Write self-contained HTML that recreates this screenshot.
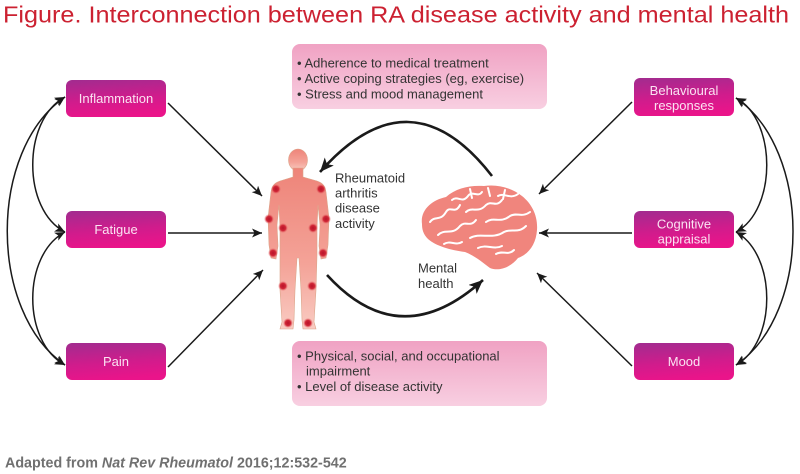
<!DOCTYPE html>
<html><head><meta charset="utf-8"><style>
html,body{margin:0;padding:0;background:#fff;}
svg{display:block;}
text{font-family:"Liberation Sans",Arial,sans-serif;}
</style></head><body>
<svg width="800" height="474" viewBox="0 0 800 474" xmlns="http://www.w3.org/2000/svg">
<defs>
<linearGradient id="bx" x1="0.2" y1="0" x2="0.4" y2="1">
<stop offset="0" stop-color="#a42b8f"/><stop offset="0.55" stop-color="#d01c8c"/><stop offset="1" stop-color="#ea148a"/>
</linearGradient>
<linearGradient id="pk" x1="0" y1="0" x2="0" y2="1">
<stop offset="0" stop-color="#f0a2c3"/><stop offset="1" stop-color="#f8cfe1"/>
</linearGradient>
<linearGradient id="bd" x1="0" y1="0" x2="0" y2="1">
<stop offset="0" stop-color="#ee8479"/><stop offset="0.6" stop-color="#f4a398"/><stop offset="1" stop-color="#f9cbc2"/>
</linearGradient>
<radialGradient id="dot">
<stop offset="0" stop-color="#b8142a"/><stop offset="0.55" stop-color="#d02636"/><stop offset="1" stop-color="#e86a6a" stop-opacity="0"/>
</radialGradient>
<marker id="a" markerUnits="userSpaceOnUse" markerWidth="12" markerHeight="10" refX="10" refY="4.5" orient="auto-start-reverse">
<path d="M0,0 L10,4.5 L0,9 L2.5,4.5 Z" fill="#1a1a1a"/>
</marker>
<marker id="b" markerUnits="userSpaceOnUse" markerWidth="16" markerHeight="14" refX="14" refY="6" orient="auto-start-reverse">
<path d="M0,0 L14,6 L0,12 L3.5,6 Z" fill="#1a1a1a"/>
</marker>
</defs>

<text x="3" y="22.5" font-size="23" fill="#cc2131" textLength="786" lengthAdjust="spacingAndGlyphs">Figure. Interconnection between RA disease activity and mental health</text>

<!-- pink info boxes -->
<rect x="292" y="44" width="255" height="65" rx="8" fill="url(#pk)"/>
<text font-size="13" fill="#333">
<tspan x="297" y="67.5">• Adherence to medical treatment</tspan>
<tspan x="297" y="83">• Active coping strategies (eg, exercise)</tspan>
<tspan x="297" y="98.5">• Stress and mood management</tspan>
</text>
<rect x="292" y="341" width="255" height="65" rx="8" fill="url(#pk)"/>
<text font-size="13" fill="#333">
<tspan x="297" y="360.5">• Physical, social, and occupational</tspan>
<tspan x="306" y="375.5">impairment</tspan>
<tspan x="297" y="391">• Level of disease activity</tspan>
</text>

<!-- magenta boxes -->
<g fill="url(#bx)">
<rect x="66" y="80" width="100" height="37" rx="6"/>
<rect x="66" y="211" width="100" height="37" rx="6"/>
<rect x="66" y="343" width="100" height="37" rx="6"/>
<rect x="634" y="78" width="100" height="38" rx="6"/>
<rect x="634" y="211" width="100" height="37" rx="6"/>
<rect x="634" y="343" width="100" height="37" rx="6"/>
</g>
<g font-size="13" fill="#fbe3f2" text-anchor="middle">
<text x="116" y="103">Inflammation</text>
<text x="116" y="234">Fatigue</text>
<text x="116" y="366">Pain</text>
<text x="684" y="95">Behavioural</text>
<text x="684" y="110">responses</text>
<text x="684" y="228.5">Cognitive</text>
<text x="684" y="243.5">appraisal</text>
<text x="684" y="366">Mood</text>
</g>

<!-- straight connectors -->
<g stroke="#1a1a1a" stroke-width="1.5" fill="none" marker-end="url(#a)">
<line x1="168" y1="103" x2="262" y2="196"/>
<line x1="168" y1="233" x2="262" y2="233"/>
<line x1="168" y1="367" x2="263" y2="270"/>
<line x1="632" y1="102" x2="539" y2="194"/>
<line x1="632" y1="233" x2="539" y2="233"/>
<line x1="632" y1="366" x2="537" y2="273"/>
</g>
<!-- side double arcs -->
<g stroke="#1a1a1a" stroke-width="1.5" fill="none" marker-start="url(#a)" marker-end="url(#a)">
<path d="M65,97 C22,120 22,210 65,232"/>
<path d="M65,97 C-12,150 -12,312 65,365"/>
<path d="M65,232 C22,255 22,342 65,365"/>
<path d="M736,98 C777,120 777,210 736,232"/>
<path d="M736,98 C812,150 812,313 736,365"/>
<path d="M736,232 C777,255 777,342 736,365"/>
</g>
<!-- big arcs -->
<g stroke="#1a1a1a" stroke-width="2.6" fill="none" marker-end="url(#b)">
<path d="M492,176 Q410,70 320,172"/>
<path d="M327,275 Q400,355 483,280"/>
</g>

<!-- labels -->
<text font-size="13" fill="#333">
<tspan x="335" y="182.5">Rheumatoid</tspan>
<tspan x="335" y="197.5">arthritis</tspan>
<tspan x="335" y="212.5">disease</tspan>
<tspan x="335" y="228">activity</tspan>
</text>
<text font-size="13" fill="#333">
<tspan x="418" y="272.5">Mental</tspan>
<tspan x="418" y="288">health</tspan>
</text>

<!-- human figure -->
<g fill="url(#bd)" stroke="#dba58a" stroke-width="0.6">
<ellipse cx="298" cy="160" rx="9.5" ry="11"/>
<path d="M293,168 L303,168 L303,177 L317,181 C323,183 325,186 326,192 L329,218 L328,245 L326,258 L321,259 L319,246 L320,225 L318,205 L317,228 L317,255 L316,290 L314,322 L316,329 L303,329 L302,320 L301,290 L299,258 L297,258 L295,290 L294,320 L293,329 L280,329 L282,322 L280,290 L280,255 L280,228 L279,205 L277,225 L278,246 L276,259 L271,258 L269,245 L268,218 L271,192 C272,186 274,183 280,181 L293,177 Z"/>
</g>
<g fill="url(#dot)">
<circle cx="276" cy="189" r="5"/><circle cx="321" cy="189" r="5"/>
<circle cx="269" cy="219" r="5"/><circle cx="326" cy="219" r="5"/>
<circle cx="283" cy="228" r="5"/><circle cx="313" cy="228" r="5"/>
<circle cx="273" cy="253" r="5"/><circle cx="323" cy="253" r="5"/>
<circle cx="283" cy="286" r="5"/><circle cx="312" cy="286" r="5"/>
<circle cx="288" cy="323" r="5"/><circle cx="308" cy="323" r="5"/>
</g>

<!-- brain -->
<path d="M422,224 C420,210 432,200 446,197 C456,188 470,185 484,186 C498,184 512,188 522,196 C532,204 538,216 537,230 C536,244 529,254 518,258 C512,266 500,272 490,268 C482,262 475,256 465,252 C450,250 436,246 428,239 C423,234 422,229 422,224 Z" fill="#f0857d"/>
<g stroke="#fff" stroke-width="2" fill="none" stroke-linecap="round">
<path d="M430,222 C435,215 440,222 446,212 C450,205 455,215 460,205"/>
<path d="M438,235 C445,228 452,236 460,226 C466,220 470,228 476,220"/>
<path d="M452,200 C458,195 462,204 468,196 C472,190 478,198 482,192"/>
<path d="M466,212 C472,206 478,214 486,205 C492,200 496,208 502,200"/>
<path d="M470,238 C480,232 492,240 504,232 C512,228 518,234 526,226"/>
<path d="M486,222 C494,216 500,224 510,216 C516,212 522,218 530,212"/>
<path d="M498,196 C504,192 510,200 518,194"/>
<path d="M478,248 C486,244 494,250 502,246"/>
<path d="M496,254 C502,250 508,256 514,250"/>
<path d="M444,244 C450,240 456,246 462,242"/>
<path d="M488,188 L490,196 M505,190 L503,199 M470,189 L472,198"/>
</g>

<text x="5" y="467.5" font-size="14.3" font-weight="bold" fill="#707070">Adapted from <tspan font-style="italic">Nat Rev Rheumatol</tspan> 2016;12:532-542</text>
</svg>
</body></html>
